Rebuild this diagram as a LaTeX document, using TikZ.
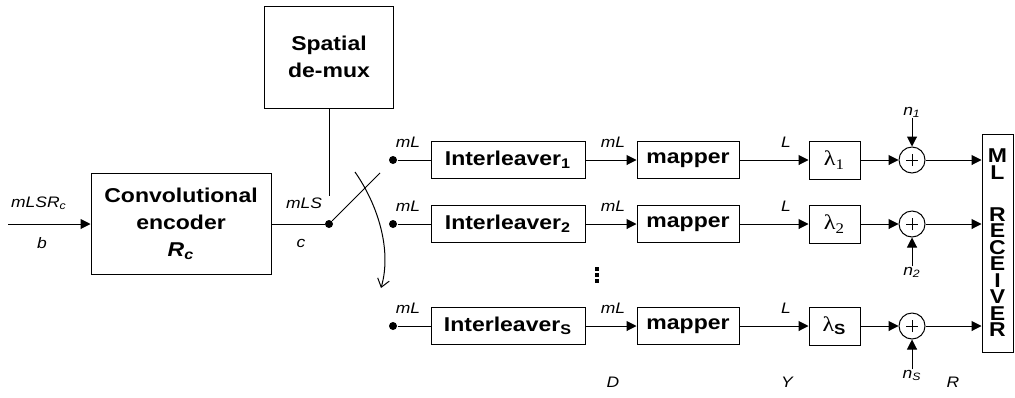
\documentclass[tikz,border=0pt]{standalone}
\usepackage{fontspec}
\setmainfont{Liberation Sans}[FakeStretch=1.15]
\newfontfamily\lamfam{Liberation Serif}[FakeStretch=1.15]
\usepackage{tikz}
\usetikzlibrary{positioning,arrows.meta}
\newcommand\bfbox{\fontsize{10}{13.5}\selectfont\bfseries}
\newcommand\lblfont{\fontsize{7.6}{8}\selectfont\itshape}
\newcommand\lamfont{\fontsize{10.5}{12}\selectfont\lamfam}
\newcommand\mlfont{\fontsize{10}{8.25}\selectfont\bfseries}
\tikzset{
  blockdiag/.style={
    x=0.5pt,y=-0.5pt
    ,line width=0.5pt
    ,>={Triangle[length=5pt,width=5pt]}
  }
  ,box/.style={draw,inner sep=0pt,align=center,font=\bfbox}
  ,ilbox/.style={box,minimum width=77pt,minimum height=18.5pt}
  ,mapbox/.style={box,minimum width=51pt,minimum height=18.5pt}
  ,lambox/.style={box,minimum width=25.5pt,minimum height=19pt,font=\lamfont}
  ,mlbox/.style={box,minimum width=15.5pt,minimum height=109pt,font=\mlfont}
  ,port/.style={circle,fill,minimum size=4pt,inner sep=0pt}
  ,adder/.style={circle,draw,minimum size=13pt,inner sep=0pt
    ,path picture={
      \draw ([xshift=-3pt]path picture bounding box.center)
         -- ([xshift=3pt]path picture bounding box.center)
         ([yshift=-3pt]path picture bounding box.center)
         -- ([yshift=3pt]path picture bounding box.center);
    }
  }
  ,lbl/.style={font=\lblfont,inner sep=0pt}
}

\begin{document}
\begin{tikzpicture}[blockdiag]
    \useasboundingbox (0,0) rectangle (1015,397);
    % encoder, de-mux and switch
    \node[box,minimum width=90pt,minimum height=50.5pt] (enc) at (181,224)
      {Convolutional\\encoder\\\textit{R\textsubscript{c}}};
    \node[box,minimum width=64.5pt,minimum height=51pt] (demux) at (329,57)
      {Spatial\\de-mux};
    \coordinate (in) at (8,224);
    \node[port] (sw) at (329,224) {};
    \coordinate (blade) at (380,173);
    \coordinate (demuxend) at (329,196);
    \coordinate (arcfrom) at (355,172);
    \coordinate (arcto) at (381,288);
    \node[lbl] (lblin) at (39,203) {mLSR\textsubscript{c}};
    \node[lbl] (lblb) at (42,243) {b};
    \node[lbl] (lblmls) at (304,203) {mLS};
    \node[lbl] (lblc) at (301,243) {c};
    \draw[->] (in) -- (enc);
    \draw (enc) -- (sw);
    \draw (demux.south) -- (demuxend);
    \draw (sw) -- (blade);
    \draw[-{Straight Barb[length=4pt,width=6pt]}] (arcfrom)
      .. controls (378,205) and (392,250) .. (arcto);

    % receiver
    \node[mlbox] (ml) at (997.5,243) {M\\L\\[12.75pt]R\\E\\C\\E\\I\\V\\E\\R};

    % branch 1
    \node[port] (d1) at (393,160) {};
    \node[ilbox] (il1) at (508,160) {Interleaver\textsubscript{1}};
    \node[mapbox] (map1) at (688,160) {mapper};
    \node[lambox] (lam1) at (834.5,160) {λ\textsubscript{1}};
    \node[adder] (add1) at (912,160) {};
    \node[lbl] (n1) at (912,112) {n\textsubscript{1}};
    \node[lbl] (ml1a) at (408,142) {mL};
    \node[lbl] (ml1b) at (613,142) {mL};
    \node[lbl] (l1) at (786,142) {L};
    \draw (d1) -- (il1);
    \draw[->] (il1) -- (map1);
    \draw[->] (map1) -- (lam1);
    \draw[->] (lam1) -- (add1);
    \draw[->] (add1) -- (ml.west |- add1);
    \draw[->] (n1) -- (add1);

    % branch 2
    \node[port] (d2) at (393,224) {};
    \node[ilbox] (il2) at (508,224) {Interleaver\textsubscript{2}};
    \node[mapbox] (map2) at (688,224) {mapper};
    \node[lambox] (lam2) at (834.5,224) {λ\textsubscript{2}};
    \node[adder] (add2) at (912,224) {};
    \node[lbl] (n2) at (912,272) {n\textsubscript{2}};
    \node[lbl] (ml2a) at (408,206) {mL};
    \node[lbl] (ml2b) at (613,206) {mL};
    \node[lbl] (l2) at (786,206) {L};
    \draw (d2) -- (il2);
    \draw[->] (il2) -- (map2);
    \draw[->] (map2) -- (lam2);
    \draw[->] (lam2) -- (add2);
    \draw[->] (add2) -- (ml.west |- add2);
    \draw[->] (n2) -- (add2);

    % vertical dots
    \foreach \yy in {267,273,279}
      \fill (595,\yy) rectangle +(4,4);

    % branch S
    \node[port] (ds) at (393,326) {};
    \node[ilbox] (ils) at (508,326) {Interleaver\textsubscript{S}};
    \node[mapbox] (maps) at (688,326) {mapper};
    \node[lambox] (lams) at (834.5,326) {λ\textsubscript{\normalfont\bfseries S}};
    \node[adder] (adds) at (912,326) {};
    \node[lbl] (ns) at (912,375) {n\textsubscript{S}};
    \node[lbl] (mlsa) at (408,308) {mL};
    \node[lbl] (mlsb) at (613,308) {mL};
    \node[lbl] (ls) at (786,308) {L};
    \draw (ds) -- (ils);
    \draw[->] (ils) -- (maps);
    \draw[->] (maps) -- (lams);
    \draw[->] (lams) -- (adds);
    \draw[->] (adds) -- (ml.west |- adds);
    \draw[->] (ns) -- (adds);

    % signal names
    \node[lbl] (lbld) at (613,382) {D};
    \node[lbl] (lbly) at (787,382) {Y};
    \node[lbl] (lblr) at (953,382) {R};
\end{tikzpicture}
\end{document}
